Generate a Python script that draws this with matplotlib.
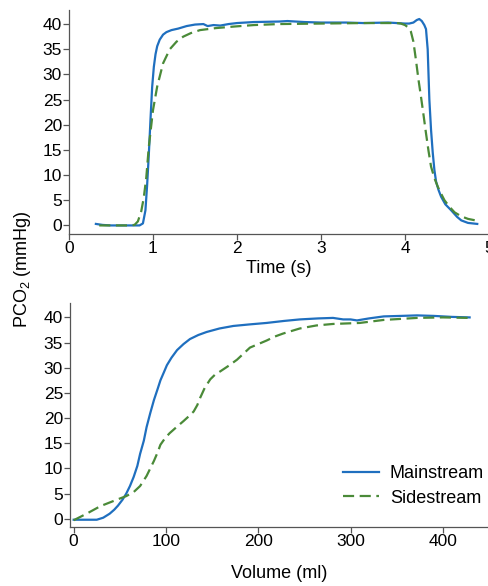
import matplotlib
matplotlib.use('Agg')
import matplotlib.pyplot as plt

plt.rcParams['font.family'] = ['Liberation Sans', 'DejaVu Sans']
plt.rcParams['mathtext.default'] = 'regular'

# capnogram over time (s)
t_main = [0.32, 0.40, 0.50, 0.70, 0.84, 0.88, 0.91, 0.93, 0.95, 0.97, 0.99, 1.01, 1.03, 1.05,
          1.08, 1.12, 1.16, 1.22, 1.30, 1.40, 1.50, 1.60, 1.65, 1.72, 1.80, 1.90, 2.00, 2.20,
          2.50, 2.60, 2.80, 3.00, 3.30, 3.50, 3.80, 4.00, 4.05, 4.10, 4.14, 4.17, 4.20, 4.23,
          4.25, 4.27, 4.29, 4.31, 4.33, 4.35, 4.37, 4.40, 4.43, 4.48, 4.55, 4.62, 4.67, 4.75,
          4.86]
co2_main = [0.3, 0.1, 0.0, 0.0, 0.0, 0.4, 3.0, 8.0, 14.0, 21.0, 27.5, 31.5, 34.0, 35.6,
            36.9, 37.9, 38.4, 38.8, 39.1, 39.6, 39.9, 40.0, 39.6, 39.8, 39.7, 40.0, 40.2, 40.4,
            40.5, 40.6, 40.4, 40.3, 40.3, 40.2, 40.3, 40.1, 40.1, 40.3, 40.8, 41.0, 40.6, 39.8,
            39.0, 35.0, 25.0, 19.0, 14.5, 11.0, 8.7, 7.0, 5.7, 4.2, 3.0, 1.7, 1.0, 0.5,
            0.3]

t_side = [0.36, 0.50, 0.70, 0.78, 0.82, 0.86, 0.89, 0.92, 0.95, 1.00, 1.05, 1.12, 1.20, 1.28,
          1.36, 1.45, 1.56, 1.75, 1.96, 2.20, 2.50, 3.00, 3.50, 3.90, 3.95, 4.00, 4.04, 4.07,
          4.10, 4.13, 4.16, 4.19, 4.22, 4.25, 4.28, 4.31, 4.35, 4.39, 4.43, 4.47, 4.53, 4.59,
          4.67, 4.75, 4.87]
co2_side = [0.0, 0.0, 0.0, 0.1, 0.8, 2.8, 5.5, 9.5, 15.6, 22.9, 27.6, 32.2, 35.0, 36.5,
            37.5, 38.2, 38.8, 39.2, 39.5, 39.8, 40.0, 40.1, 40.2, 40.2, 40.1, 39.8, 39.3, 38.5,
            36.5, 32.9, 29.0, 25.6, 22.0, 18.3, 14.8, 11.7, 9.4, 7.7, 6.3, 5.0, 3.7, 2.6,
            1.8, 1.3, 0.9]

# volumetric capnogram (ml)
v_main = [0, 10, 25, 32, 39, 44, 48, 53, 57, 61, 65, 69, 72, 76, 79, 83, 87, 91, 94, 98, 101,
          106, 112, 119, 126, 135, 144, 158, 173, 190, 209, 228, 245, 265, 281, 292, 300, 307,
          320, 336, 355, 372, 390, 410, 429]
vco2_main = [-0.2, -0.2, -0.2, 0.2, 1.0, 1.8, 2.6, 3.8, 5.0, 6.5, 8.3, 10.5, 12.9, 15.5,
             18.2, 21.0, 23.6, 25.8, 27.5, 29.2, 30.5, 32.0, 33.5, 34.7, 35.7, 36.5, 37.1,
             37.8, 38.3, 38.6, 38.9, 39.3, 39.6, 39.8, 39.9, 39.6, 39.6, 39.4, 39.8, 40.2,
             40.3, 40.4, 40.3, 40.1, 40.0]

v_side = [0, 14, 29, 47, 57, 65, 72, 79, 83, 87, 91, 94, 99, 104, 112, 119, 125, 130, 134, 137,
          142, 148, 153, 159, 168, 177, 184, 191, 200, 209, 218, 227, 236, 245, 263, 281, 310,
          336, 372, 400, 429]
vco2_side = [-0.3, 1.0, 2.5, 3.8, 4.5, 5.3, 6.5, 8.5, 10.0, 11.5, 13.2, 14.7, 16.0, 17.0,
             18.3, 19.4, 20.4, 21.3, 22.6, 24.0, 26.0, 27.7, 28.6, 29.3, 30.4, 31.6, 32.8,
             34.0, 34.7, 35.4, 36.2, 36.8, 37.3, 37.8, 38.4, 38.7, 38.9, 39.5, 39.9, 40.0,
             39.9]

blue = '#1f6fbf'
green = '#4a8a38'

fig = plt.figure(figsize=(4.89, 5.86), dpi=100)
ax1 = fig.add_axes([0.1411, 0.6007, 0.8589, 0.3823])
ax2 = fig.add_axes([0.1431, 0.1002, 0.8569, 0.3822])

ax1.plot(t_main, co2_main, color=blue, lw=1.6)
ax1.plot(t_side, co2_side, color=green, lw=1.6, ls=(0, (5, 2.5)))
ax1.set_xlim(0, 5.0)
ax1.set_xticks([0, 1, 2, 3, 4, 5])
ax1.set_xlabel('Time (s)', fontsize=13, labelpad=3)

ax2.plot(v_main, vco2_main, color=blue, lw=1.6, label='Mainstream')
ax2.plot(v_side, vco2_side, color=green, lw=1.6, ls=(0, (5, 2.5)), label='Sidestream')
ax2.set_xlim(-4, 450)
ax2.set_xticks([0, 100, 200, 300, 400])
ax2.set_xlabel('Volume (ml)', fontsize=13, labelpad=11)
ax2.legend(loc='lower right', frameon=False, fontsize=13, handlelength=2.0,
           handletextpad=0.6, borderaxespad=0.0, labelspacing=0.4,
           bbox_to_anchor=(1.005, 0.06))

for ax in (ax1, ax2):
    ax.set_ylim(-1.7, 42.8)
    ax.set_yticks(range(0, 41, 5))
    for s in ('top', 'right'):
        ax.spines[s].set_visible(False)
    for s in ('left', 'bottom'):
        ax.spines[s].set_color('#555555')
        ax.spines[s].set_linewidth(0.9)
    ax.tick_params(direction='out', length=4, width=0.9, color='#555555',
                   labelsize=12.5, pad=1)

fig.text(0.045, 0.540, 'PCO$_2$ (mmHg)', rotation=90, ha='center', va='center',
         fontsize=13)

fig.savefig('out.png', dpi=100)
